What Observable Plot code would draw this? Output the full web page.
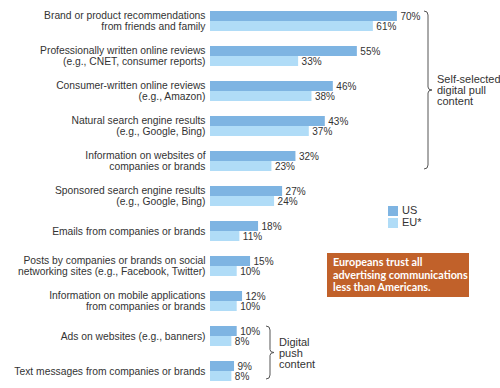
<!DOCTYPE html>
<html>
<head>
<meta charset="utf-8">
<script src="https://cdn.jsdelivr.net/npm/d3@7"></script>
<script src="https://cdn.jsdelivr.net/npm/@observablehq/plot@0.6"></script>
<style>
  html, body { margin: 0; padding: 0; background: #fff; }
  #wrap { position: relative; width: 500px; height: 388px; font-family: "Liberation Sans", Arial, sans-serif; }
  #wrap svg { display: block; }
  .ann { position: absolute; color: #333; font-size: 10px; line-height: 11px; white-space: nowrap; }
  .sw { position: absolute; width: 10px; height: 10px; }
  #box { position: absolute; background: #c1612a; color: #fff; font-family: Lato, "Liberation Sans", sans-serif; font-size: 10.8px; font-weight: bold; line-height: 12.5px; box-sizing: border-box; padding: 3px 6px; white-space: nowrap; }
</style>
</head>
<body>
<div id="wrap"></div>
<script>
const categories = [
  "Brand or product recommendations\nfrom friends and family",
  "Professionally written online reviews\n(e.g., CNET, consumer reports)",
  "Consumer-written online reviews\n(e.g., Amazon)",
  "Natural search engine results\n(e.g., Google, Bing)",
  "Information on websites of\ncompanies or brands",
  "Sponsored search engine results\n(e.g., Google, Bing)",
  "Emails from companies or brands",
  "Posts by companies or brands on social\nnetworking sites (e.g., Facebook, Twitter)",
  "Information on mobile applications\nfrom companies or brands",
  "Ads on websites (e.g., banners)",
  "Text messages from companies or brands"
];
const series = ["US", "EU*"];
const usValues = [70, 55, 46, 43, 32, 27, 18, 15, 12, 10, 9];
const euValues = [61, 33, 38, 37, 23, 24, 11, 10, 10, 8, 8];
const colors = ["#7eb4e2", "#b0dcf7"];
const groupLabels = ["Self-selected\ndigital pull\ncontent", "Digital\npush\ncontent"];
const groupRanges = [[0, 4], [9, 10]];
const note = "Europeans trust all\nadvertising communications\nless than Americans.";

const data = [];
categories.forEach((c, i) => {
  data.push({category: c, series: series[0], value: usValues[i]});
  data.push({category: c, series: series[1], value: euValues[i]});
});

const font = "Liberation Sans, Arial, sans-serif";
const chart = Plot.plot({
  width: 500,
  height: 388,
  marginLeft: 210,
  marginRight: 23,
  marginTop: 10,
  marginBottom: 7,
  style: {fontFamily: font, fontSize: "10px", color: "#333", background: "#fff"},
  x: {domain: [0, 100], axis: null},
  y: {domain: series, padding: 0, axis: null},
  fy: {domain: categories, paddingInner: 0.4, paddingOuter: 0, axis: null},
  color: {domain: series, range: colors},
  marks: [
    Plot.barX(data, {x: "value", y: "series", fy: "category", fill: "series", insetTop: 0, insetBottom: 0}),
    Plot.text(data, {x: "value", y: "series", fy: "category", text: d => d.value + "%", dx: 3, textAnchor: "start", fill: "#333", fontSize: 10}),
    Plot.text(categories, {fy: d => d, text: d => d, frameAnchor: "left", textAnchor: "end", dx: -5, fill: "#333", fontSize: 10.3, lineHeight: 1.07})
  ]
});

const wrap = document.getElementById("wrap");
wrap.appendChild(chart);

// band positions from fy scale
const fy = chart.scale("fy");
function bandTop(i) {
  if (fy.apply) return fy.apply(categories[i]);
  const step = (388 - 7 - 10) / (categories.length - 0.4);
  return 10 + i * step;
}
const bw = fy.bandwidth || ((388 - 17) / (categories.length - 0.4)) * 0.6;

// braces overlay
const ns = "http://www.w3.org/2000/svg";
const over = document.createElementNS(ns, "svg");
over.setAttribute("width", 500);
over.setAttribute("height", 388);
over.style.position = "absolute";
over.style.left = "0";
over.style.top = "0";
wrap.appendChild(over);
const braceX = [428, 270];
function brace(x, y0, y1) {
  const ym = (y0 + y1) / 2, r = 4;
  return `M${x - r},${y0} Q${x},${y0} ${x},${y0 + r} L${x},${ym - 3} Q${x},${ym} ${x + 4},${ym} Q${x},${ym} ${x},${ym + 3} L${x},${y1 - r} Q${x},${y1} ${x - r},${y1}`;
}
groupRanges.forEach(([a, b], k) => {
  const y0 = bandTop(a), y1 = bandTop(b) + bw;
  const p = document.createElementNS(ns, "path");
  p.setAttribute("d", brace(braceX[k], y0 + 1, y1 - 2));
  p.setAttribute("fill", "none");
  p.setAttribute("stroke", "#555");
  p.setAttribute("stroke-width", "1");
  over.appendChild(p);
  const ym = (y0 + y1) / 2;
  const lines = groupLabels[k].split("\n");
  const d = document.createElement("div");
  d.className = "ann";
  d.style.fontSize = "11px";
  d.style.lineHeight = "11px";
  d.style.left = (braceX[k] + 9) + "px";
  d.style.top = (ym - lines.length * 11 / 2) + "px";
  d.innerHTML = lines.join("<br>");
  wrap.appendChild(d);
});

// legend
series.forEach((s, i) => {
  const sw = document.createElement("div");
  sw.className = "sw";
  sw.style.left = "388px";
  sw.style.top = (206 + i * 12) + "px";
  sw.style.background = colors[i];
  wrap.appendChild(sw);
  const t = document.createElement("div");
  t.className = "ann";
  t.style.fontSize = "11px";
  t.style.left = "402px";
  t.style.top = (205 + i * 12) + "px";
  t.textContent = s;
  wrap.appendChild(t);
});

// note box
const box = document.createElement("div");
box.id = "box";
box.style.left = "327px";
box.style.top = "253px";
box.style.width = "142px";
box.style.height = "44px";
box.innerHTML = note.split("\n").join("<br>");
wrap.appendChild(box);
</script>
</body>
</html>
